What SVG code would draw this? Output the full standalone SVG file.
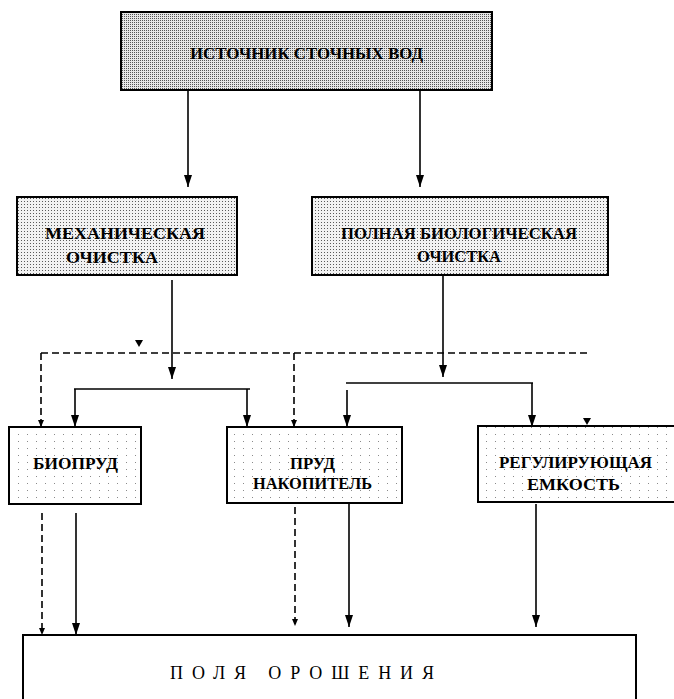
<svg xmlns="http://www.w3.org/2000/svg" width="674" height="699" viewBox="0 0 674 699">
<defs>
<pattern id="dotsDark" width="2" height="2" patternUnits="userSpaceOnUse"><rect width="2" height="2" fill="#e6e6e6"/><rect width="1" height="1" fill="#555"/></pattern>
<pattern id="dotsMid" width="3" height="3" patternUnits="userSpaceOnUse"><rect width="3" height="3" fill="#f2f2f2"/><rect width="1" height="1" fill="#5a5a5a"/></pattern>
<pattern id="dotsLight" width="9" height="7" patternUnits="userSpaceOnUse"><rect width="9" height="7" fill="#ffffff"/><rect width="1" height="1" fill="#8a8a8a"/></pattern>
<marker id="ah" viewBox="0 0 12 8" refX="12" refY="4" markerWidth="12" markerHeight="8" markerUnits="userSpaceOnUse" orient="auto">
<path d="M0,0 L12,4 L0,8 z" fill="#000"/>
</marker>
<marker id="ahs" viewBox="0 0 7 6" refX="7" refY="3" markerWidth="7" markerHeight="6" markerUnits="userSpaceOnUse" orient="auto">
<path d="M0,0 L7,3 L0,6 z" fill="#000"/>
</marker>
</defs>
<style>
.box{stroke:#000;stroke-width:2}
.t{font-family:"Liberation Serif","Times New Roman",serif;font-size:17px;fill:#000;text-anchor:middle;font-weight:bold}
.tb{font-family:"Liberation Serif","Times New Roman",serif;font-size:18px;fill:#000;text-anchor:middle}
.c{fill:none;stroke:#000;stroke-width:1.6}
.s{marker-end:url(#ah)}
.d{fill:none;stroke:#000;stroke-width:1.6;stroke-dasharray:7 4}
.ds{marker-end:url(#ahs)}
</style>
<g id="connectors">
<path class="c s" d="M188,90 V187"/>
<path class="c s" d="M420,90 V187"/>
<path class="c s" d="M172,280 V379"/>
<path class="c s" d="M443,276 V377"/>
<path class="c" d="M74,389 H250"/>
<path class="c s" d="M75,389 V427"/>
<path class="c s" d="M247,389 V427"/>
<path class="c" d="M346,383 H533"/>
<path class="c s" d="M347,390 V427"/>
<path class="c s" d="M532,383 V427"/>
<path class="c s" d="M76,513 V635"/>
<path class="c s" d="M349,504 V627"/>
<path class="c s" d="M536,504 V627"/>
<path class="d" d="M41,353 H588"/>
<path class="d ds" d="M41,353 V427"/>
<path class="d ds" d="M294,353 V427"/>
<path class="d ds" d="M42,513 V635"/>
<path class="d ds" d="M295,507 V626"/>
<polygon points="135,340 143,340 139,347" fill="#000"/>
<polygon points="583,418 591,418 587,425" fill="#000"/>
</g>
<g id="source">
<rect class="box" x="121" y="12" width="371" height="78" fill="url(#dotsDark)"/>
<text class="t" x="306.5" y="59" textLength="233" lengthAdjust="spacingAndGlyphs">ИСТОЧНИК СТОЧНЫХ ВОД</text>
</g>
<g id="mech">
<rect class="box" x="17" y="197" width="220" height="78" fill="url(#dotsMid)"/>
<text class="t" x="125" y="239" textLength="160" lengthAdjust="spacingAndGlyphs">МЕХАНИЧЕСКАЯ</text>
<text class="t" x="112" y="263" textLength="92" lengthAdjust="spacingAndGlyphs">ОЧИСТКА</text>
</g>
<g id="bio">
<rect class="box" x="312" y="197" width="296" height="78" fill="url(#dotsMid)"/>
<text class="t" x="459" y="239" textLength="236" lengthAdjust="spacingAndGlyphs">ПОЛНАЯ БИОЛОГИЧЕСКАЯ</text>
<text class="t" x="459" y="262" textLength="84" lengthAdjust="spacingAndGlyphs">ОЧИСТКА</text>
</g>
<g id="biopond">
<rect class="box" x="9" y="427" width="132" height="77" fill="url(#dotsLight)"/>
<text class="t" x="75.5" y="469" textLength="85" lengthAdjust="spacingAndGlyphs">БИОПРУД</text>
</g>
<g id="storagepond">
<rect class="box" x="227" y="427" width="175" height="76" fill="url(#dotsLight)"/>
<text class="t" x="312.5" y="469" textLength="45" lengthAdjust="spacingAndGlyphs">ПРУД</text>
<text class="t" x="312.5" y="489" textLength="119" lengthAdjust="spacingAndGlyphs">НАКОПИТЕЛЬ</text>
</g>
<g id="regulating">
<rect class="box" x="478" y="426" width="210" height="76" fill="url(#dotsLight)"/>
<text class="t" x="575.5" y="468" textLength="153" lengthAdjust="spacingAndGlyphs">РЕГУЛИРУЮЩАЯ</text>
<text class="t" x="573.5" y="490" textLength="93" lengthAdjust="spacingAndGlyphs">ЕМКОСТЬ</text>
</g>
<g id="fields">
<rect class="box" x="23" y="635" width="613" height="80" fill="#fff"/>
<text class="tb" x="302" y="679" textLength="264" lengthAdjust="spacing">ПОЛЯ  ОРОШЕНИЯ</text>
</g>
</svg>
